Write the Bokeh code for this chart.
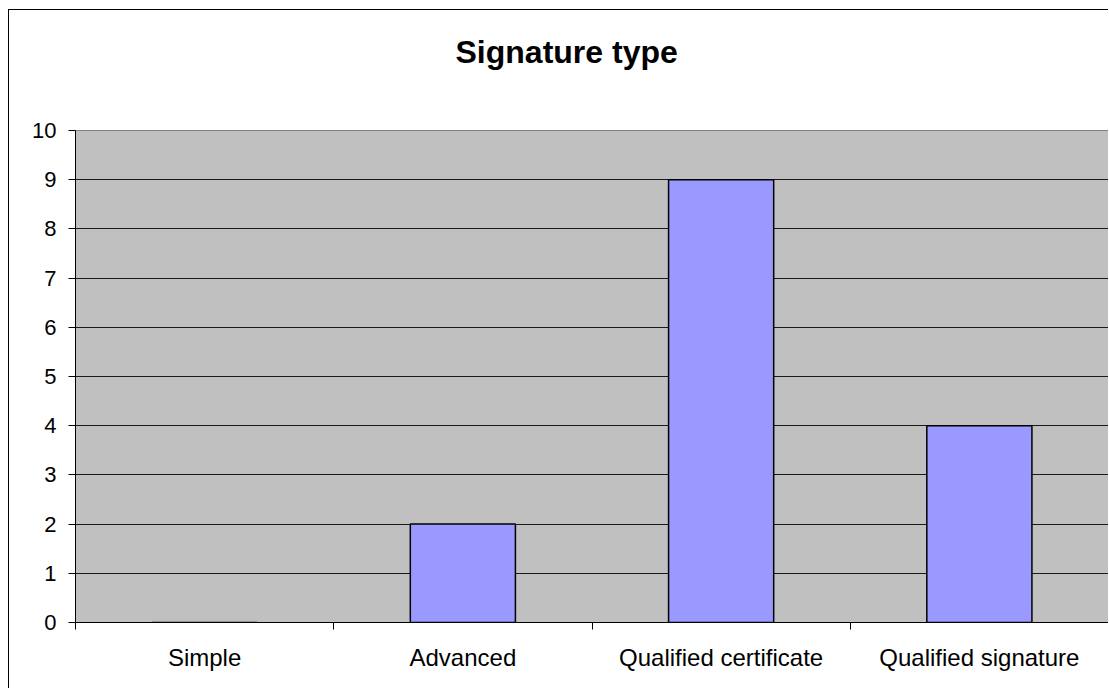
from bokeh.plotting import figure
from bokeh.models import Range1d, FixedTicker, ColumnDataSource
from bokeh.embed import file_html
from bokeh.resources import INLINE

# Survey answers per signature type
categories = ["Simple", "Advanced", "Qualified certificate", "Qualified signature"]
counts = [0, 2, 9, 4]
y_ticks = list(range(0, 11))
title_text = "Signature type"

FONT = "Liberation Sans"
OFF_X, OFF_Y = 9, 10          # chart box starts just inside the page corner
W, H = 1109 - OFF_X, 689 - OFF_Y

positions = [i + 0.5 for i in range(len(categories))]
source = ColumnDataSource(dict(x=positions, top=counts, name=categories))

p = figure(
    width=W, height=H,
    # a blank second line gives the title panel extra room below the text
    title=title_text + "\n ",
    x_range=Range1d(0, len(categories)), y_range=Range1d(0, 10),
    output_backend="svg", toolbar_location=None,
    min_border_left=75 - OFF_X, min_border_right=1,
    min_border_top=130 - OFF_Y, min_border_bottom=67,
    styles={
        "margin-left": "8px", "margin-top": "9px",
        "border-left": "1px solid black", "border-top": "1px solid black",
    },
)
p.title.text_font = FONT
p.title.text_font_size = "32px"
p.title.text_font_style = "bold"
p.title.text_color = "black"
p.title.align = "left"
p.title.offset = 380
p.title.vertical_align = "top"
p.title.standoff = 46

p.background_fill_color = "#C0C0C0"
p.border_fill_color = "white"
p.outline_line_color = "#808080"
p.outline_line_width = 1

p.vbar(x="x", top="top", bottom=0, width=0.407, source=source,
       fill_color="#9999FF", line_color="black", line_width=1.5)

# grid
p.xgrid.visible = False
p.ygrid.ticker = FixedTicker(ticks=y_ticks)
p.ygrid.grid_line_color = "#1a1a1a"
p.ygrid.grid_line_width = 1

# y axis
ya = p.yaxis[0]
ya.ticker = FixedTicker(ticks=y_ticks)
ya.axis_line_color = "black"
ya.major_tick_line_color = "black"
ya.major_tick_out = 7
ya.major_tick_in = 0
ya.minor_tick_line_color = None
ya.major_label_standoff = 12
ya.major_label_text_font = FONT
ya.major_label_text_font_size = "22px"
ya.major_label_text_color = "black"

# x axis: labels at category centres, tick marks at boundaries
xa = p.xaxis[0]
xa.ticker = FixedTicker(ticks=positions, minor_ticks=list(range(len(categories) + 1)))
xa.major_label_overrides = {pos: name for pos, name in zip(positions, categories)}
xa.axis_line_color = "black"
xa.major_tick_line_color = None
xa.major_tick_out = 0
xa.major_tick_in = 0
xa.minor_tick_line_color = "black"
xa.minor_tick_out = 7
xa.minor_tick_in = 0
xa.major_label_standoff = 14
xa.major_label_text_font = FONT
xa.major_label_text_font_size = "24px"
xa.major_label_text_color = "black"

open("out.html", "w").write(file_html(p, INLINE))
